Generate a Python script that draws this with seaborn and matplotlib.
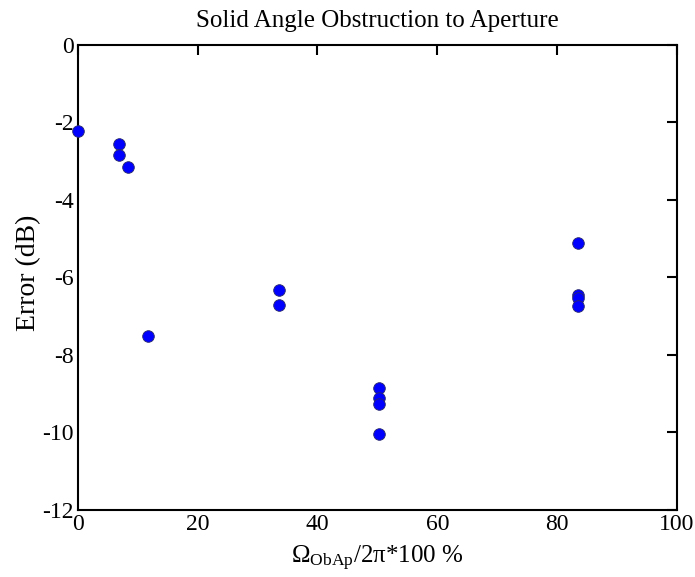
import matplotlib
matplotlib.use("Agg")
import matplotlib.pyplot as plt
import seaborn as sns
import pandas as pd

obstruction_pct = [0.0, 6.9, 6.9, 8.3, 11.7, 33.6, 33.6, 50.2, 50.2, 50.2, 50.2, 83.5, 83.5, 83.5, 83.5]
error_db = [-2.22, -2.56, -2.84, -3.16, -7.51, -6.32, -6.71, -8.86, -9.11, -9.26, -10.03, -5.12, -6.45, -6.54, -6.73]
x_ticks = [0, 20, 40, 60, 80, 100]
y_ticks = [0, -2, -4, -6, -8, -10, -12]

sns.set_theme(style="white")
plt.rcParams['font.family'] = ['Liberation Serif', 'DejaVu Serif']
plt.rcParams['mathtext.fontset'] = 'custom'
plt.rcParams['mathtext.rm'] = 'Liberation Serif'
plt.rcParams['mathtext.it'] = 'Liberation Serif:italic'
plt.rcParams['axes.unicode_minus'] = False
plt.rcParams['text.color'] = 'black'
plt.rcParams['axes.labelcolor'] = 'black'

df = pd.DataFrame({"x": obstruction_pct, "y": error_db})

fig = plt.figure(figsize=(6.95, 5.77), dpi=100)
ax = fig.add_axes([0.112, 0.1161, 0.862, 0.8064])
sns.scatterplot(data=df, x="x", y="y", ax=ax, s=70, color="#0000ff",
                edgecolor="#2a2a6a", linewidth=0.6, zorder=3, clip_on=False)

ax.set_xlim(0, 100)
ax.set_ylim(-12, 0)
ax.set_xticks(x_ticks)
ax.set_yticks(y_ticks)
ax.tick_params(direction="in", length=7, width=1.5, top=True, right=True,
               labelsize=17, colors="black", pad=3)
for sp in ax.spines.values():
    sp.set_linewidth(1.5)
    sp.set_color("black")

ax.set_title("Solid Angle Obstruction to Aperture", fontsize=18, pad=13, color="black")
ax.set_xlabel(r"$\mathrm{\Omega_{ObAp}}$/2π*100 %", fontsize=18)
ax.set_ylabel("Error (dB)", fontsize=20)
ax.xaxis.set_label_coords(0.5, -0.072)
ax.yaxis.set_label_coords(-0.062, 0.509)

fig.savefig("out.png", dpi=100)
